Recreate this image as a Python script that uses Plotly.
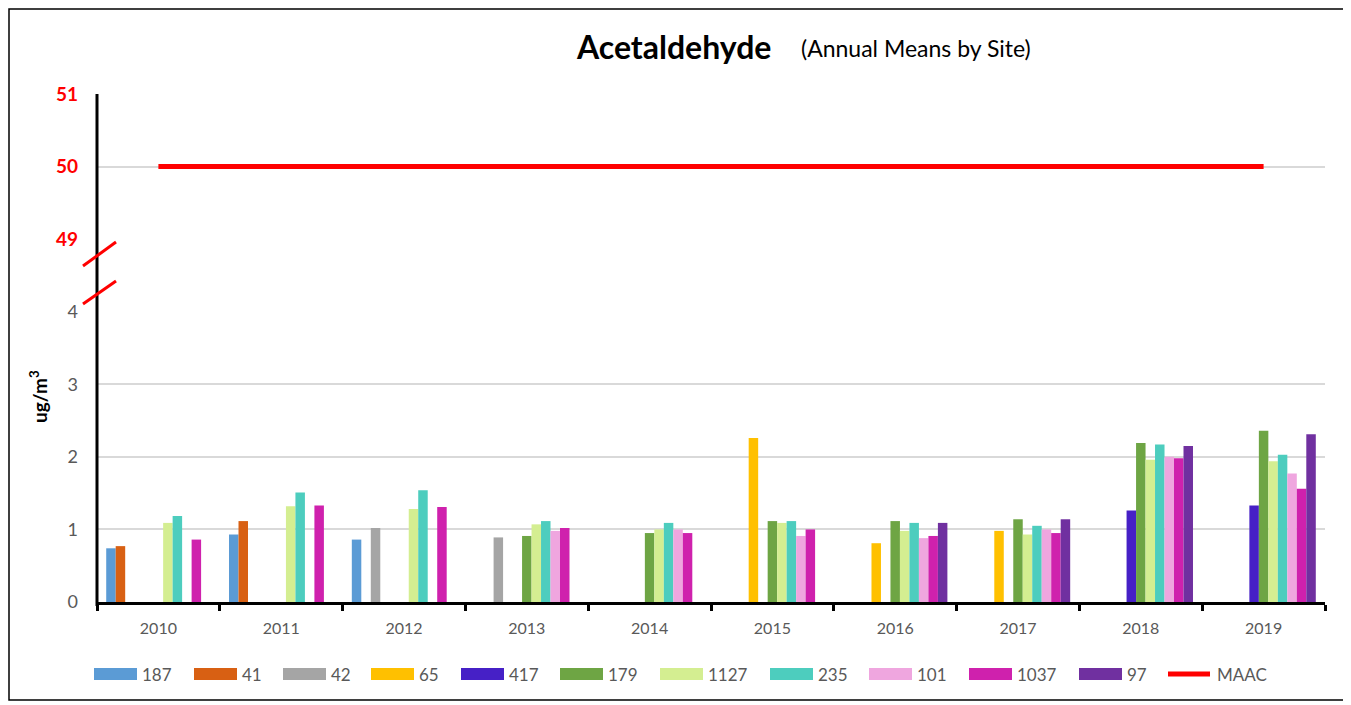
import plotly.graph_objects as go

years = ["2010", "2011", "2012", "2013", "2014", "2015", "2016", "2017", "2018", "2019"]

site_names = ["187", "41", "42", "65", "417", "179", "1127", "235", "101", "1037", "97"]
site_colors = ["#5B9BD5", "#D86013", "#A5A5A5", "#FFC000", "#4620C6", "#6EA544",
               "#D4EE91", "#4DCDBE", "#EFA6DF", "#CF21AD", "#7030A0"]

N = None
s187 = [0.74, 0.93, 0.86, N, N, N, N, N, N, N]
s41 = [0.77, 1.115, N, N, N, N, N, N, N, N]
s42 = [N, N, 1.02, 0.89, N, N, N, N, N, N]
s65 = [N, N, N, N, N, 2.26, 0.81, 0.98, N, N]
s417 = [N, N, N, N, N, N, N, N, 1.26, 1.33]
s179 = [N, N, N, 0.91, 0.95, 1.115, 1.115, 1.14, 2.19, 2.36]
s1127 = [1.09, 1.32, 1.28, 1.07, 1.00, 1.09, 0.98, 0.93, 1.96, 1.94]
s235 = [1.185, 1.51, 1.54, 1.115, 1.09, 1.115, 1.09, 1.05, 2.17, 2.03]
s101 = [N, N, N, 0.98, 1.00, 0.91, 0.88, 1.00, 2.00, 1.77]
s1037 = [0.86, 1.33, 1.31, 1.02, 0.95, 1.00, 0.91, 0.95, 1.98, 1.56]
s97 = [N, N, N, N, N, N, 1.09, 1.14, 2.15, 2.31]
series_values = [s187, s41, s42, s65, s417, s179, s1127, s235, s101, s1037, s97]

maac_name = "MAAC"
maac_values = [50] * len(years)
maac_color = "#FF0000"

low_ticks = [0, 1, 2, 3, 4]
high_ticks = [49, 50, 51]

FONT = "Lato"
GRAY = "#595959"

# page body adds an 8px margin: figure is drawn 8px smaller and offset
OFF = 8
# plot area in (page) pixels
L, R, T, B = 97, 1325, 94, 602
W, H = 1351 - OFF, 705 - OFF


def px(x):
    return (x - L) / (R - L)


def py(y):
    return (B - y) / (B - T)


fig = go.Figure()
for name, vals, col in zip(site_names, series_values, site_colors):
    fig.add_trace(go.Bar(x=years, y=vals, name=name, marker=dict(color=col, line=dict(width=0)),
                         xaxis="x", yaxis="y", showlegend=False))

fig.add_trace(go.Scatter(x=years, y=maac_values, name=maac_name, mode="lines",
                         line=dict(color=maac_color, width=5), xaxis="x", yaxis="y2",
                         showlegend=False))

shapes = []
annotations = []

# outer border
shapes.append(dict(type="rect", xref="paper", yref="paper", x0=px(9), x1=px(1346), y0=py(9), y1=py(700),
                   line=dict(color="black", width=1.5), fillcolor="rgba(0,0,0,0)", layer="below"))
# vertical axis line
shapes.append(dict(type="line", xref="paper", yref="paper", x0=0, x1=0, y0=py(606), y1=1,
                   line=dict(color="black", width=3)))
# break marks
for (ya, yb) in [(266, 242), (304, 281)]:
    shapes.append(dict(type="line", xref="paper", yref="paper", x0=px(83), x1=px(116), y0=py(ya), y1=py(yb),
                       line=dict(color="#FF0000", width=3)))

# custom legend
leg_x = [94, 194, 283, 371, 461, 560, 660, 770, 869, 969, 1079]
leg_y = 674
for name, col, x0 in zip(site_names, site_colors, leg_x):
    shapes.append(dict(type="rect", xref="paper", yref="paper", x0=px(x0), x1=px(x0 + 43),
                       y0=py(leg_y + 6), y1=py(leg_y - 6), fillcolor=col, line=dict(width=0)))
    annotations.append(dict(x=px(x0 + 46), y=py(leg_y), xref="paper", yref="paper", text=name,
                            showarrow=False, xanchor="left", yanchor="middle",
                            font=dict(family=FONT, size=17, color=GRAY)))
shapes.append(dict(type="line", xref="paper", yref="paper", x0=px(1168), x1=px(1210),
                   y0=py(leg_y), y1=py(leg_y), line=dict(color=maac_color, width=5)))
annotations.append(dict(x=px(1215), y=py(leg_y), xref="paper", yref="paper", text=maac_name,
                        showarrow=False, xanchor="left", yanchor="middle",
                        font=dict(family=FONT, size=17, color=GRAY)))

# title
annotations.append(dict(x=px(574), y=py(47), xref="paper", yref="paper", text="<b>Acetaldehyde</b>",
                        showarrow=False, xanchor="left", yanchor="middle",
                        font=dict(family=FONT, size=32, color="black")))
annotations.append(dict(x=px(799), y=py(48), xref="paper", yref="paper", text="(Annual Means by Site)",
                        showarrow=False, xanchor="left", yanchor="middle",
                        font=dict(family=FONT, size=23, color="black")))
# y title
annotations.append(dict(x=px(38), y=py(397), xref="paper", yref="paper", text="<b>ug/m<sup>3</sup></b>",
                        showarrow=False, textangle=-90, xanchor="center", yanchor="middle",
                        font=dict(family=FONT, size=19, color="black")))

fig.update_layout(
    width=W, height=H,
    margin=dict(l=L - OFF, r=W - (R - OFF), t=T - OFF, b=H - (B - OFF), pad=0),
    paper_bgcolor="white", plot_bgcolor="white",
    barmode="group", bargap=0.15, bargroupgap=0,
    showlegend=False,
    font=dict(family=FONT, color=GRAY),
    xaxis=dict(type="category", categoryorder="array", categoryarray=years,
               showline=True, linecolor="black", linewidth=3,
               ticks="outside", tickson="boundaries", ticklen=6, tickwidth=3, tickcolor="black",
               showgrid=False, ticklabelstandoff=10,
               tickfont=dict(family=FONT, size=16, color=GRAY), anchor="y", fixedrange=True),
    yaxis=dict(domain=[0, 4 / 7], range=[0, 4], tickvals=low_ticks,
               ticktext=[str(v) for v in low_ticks],
               showgrid=True, gridcolor="#D9D9D9", gridwidth=1.5, zeroline=False, showline=False,
               ticks="", ticklabelstandoff=18,
               tickfont=dict(family=FONT, size=18, color=GRAY), anchor="x"),
    yaxis2=dict(domain=[5 / 7, 1], range=[49, 51], tickvals=high_ticks,
                ticktext=["<b>%d</b>" % v for v in high_ticks],
                showgrid=True, gridcolor="#D9D9D9", gridwidth=1.5, zeroline=False, showline=False,
                ticks="", ticklabelstandoff=18,
                tickfont=dict(family=FONT, size=19, color="#FF0000"), anchor="x"),
    shapes=shapes,
    annotations=annotations,
)

fig.write_html("out.html")
